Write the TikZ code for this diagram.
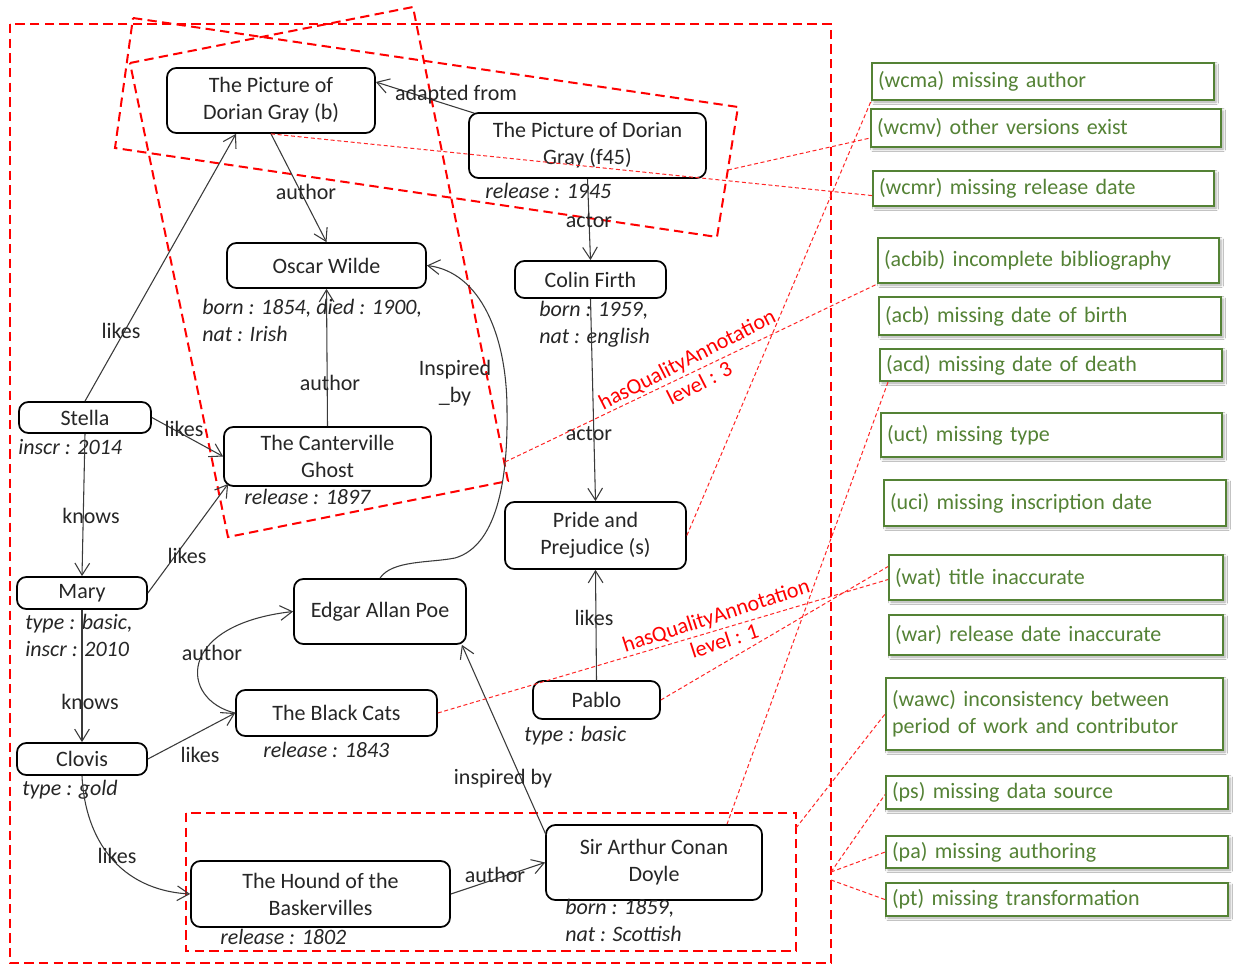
\documentclass[tikz,border=0pt]{standalone}
\usepackage{fontspec}
\setmainfont{Carlito}
\usetikzlibrary{arrows.meta,calc,shadows.blur}
\definecolor{qgreen}{HTML}{548235}
\definecolor{edgegray}{HTML}{3A3A3A}
\newcommand{\dgfont}{\fontsize{16.5}{20.25}\selectfont}
\tikzset{
  ent/.style 2 args={draw=black, line width=1.3pt, rounded corners=7pt, align=center,
    inner sep=0pt, minimum width=#1*0.75pt, minimum height=#2*0.75pt, font=\dgfont, text=black!85},
  attr/.style={font=\dgfont\itshape, align=left, anchor=west, inner sep=0pt, text=black!85},
  elab/.style={font=\dgfont, align=center, inner sep=0pt, text=black!85},
  link/.style={draw=edgegray, line width=0.8pt, -{Straight Barb[length=9pt,width=11pt]}},
  qa/.style 2 args={draw=qgreen, line width=1.6pt, fill=white, anchor=north west,
    inner xsep=4.5pt, inner ysep=0pt, text width=#1, minimum height=#2*0.75pt,
    align=left, text=qgreen, font=\dgfont,
    blur shadow={shadow xshift=1.5pt, shadow yshift=-1.5pt, shadow blur steps=4, shadow opacity=35}},
  bigdash/.style={draw=red, line width=1.5pt, dash pattern=on 7pt off 4pt},
  thindash/.style={draw=red!85!white, line width=0.75pt, dash pattern=on 3pt off 2pt},
  qlab/.style={text=red, font=\dgfont, align=center, inner sep=0pt}
}
\begin{document}
\begin{tikzpicture}[x=0.75pt,y=-0.75pt]
\useasboundingbox (0,0) rectangle (1233,966);
\fill[white] (0,0) rectangle (1233,966);

% group frames
\draw[bigdash] (10,24) rectangle (831,963);
\draw[bigdash] (186,813) rectangle (796,951);
\coordinate (bA1) at (130,63);
\coordinate (bA2) at (413,7);
\coordinate (bA3) at (508,481);
\coordinate (bA4) at (228,537);
\draw[bigdash] (bA1) -- (bA2) -- (bA3) -- (bA4) -- cycle;
\coordinate (bB1) at (133,18);
\coordinate (bB2) at (738,107);
\coordinate (bB3) at (717,237);
\coordinate (bB4) at (115,148);
\draw[bigdash] (bB1) -- (bB2) -- (bB3) -- (bB4) -- cycle;

% entities
\node[ent={208}{65}] (dgb) at (271,100.5) {The Picture of\\Dorian Gray (b)};
\node[ent={237}{65}] (f45) at (587.5,145.5) {The Picture of Dorian\\Gray (f45)};
\node[ent={199}{45}] (ow) at (326.5,265.5) {Oscar Wilde};
\node[ent={151}{37}] (cf) at (590.5,279.5) {Colin Firth};
\node[ent={207}{59}] (cg) at (327.5,456.5) {The Canterville\\Ghost};
\node[ent={132}{31}] (st) at (85,417.5) {Stella};
\node[ent={130}{32}] (ma) at (82,593) {Mary};
\node[ent={130}{32}] (cl) at (82,759) {Clovis};
\node[ent={172}{65}] (eap) at (380,611.5) {Edgar Allan Poe};
\node[ent={201}{46}] (bc) at (336.5,713) {The Black Cats};
\node[ent={181}{67}] (pp) at (595.5,535.5) {Pride and\\Prejudice (s)};
\node[ent={127}{38}] (pab) at (596.5,700) {Pablo};
\node[ent={259}{66}] (hb) at (320.5,894) {The Hound of the\\Baskervilles};
\node[ent={216}{75}] (doyle) at (654,862.5) {Sir Arthur Conan\\Doyle};

% attributes
\node[attr] (a1) at (485,191) {release : 1945};
\node[attr] (a2) at (202,320.5) {born : 1854, died : 1900,\\nat : Irish};
\node[attr] (a3) at (539,324.5) {born : 1959,\\nat : english};
\node[attr] (a4) at (244,497) {release : 1897};
\node[attr] (a5) at (18,447) {inscr : 2014};
\node[attr] (a6) at (25,635.5) {type : basic,\\inscr : 2010};
\node[attr] (a7) at (22,790) {type : gold};
\node[attr] (a8) at (263,750) {release : 1843};
\node[attr] (a9) at (524,736) {type : basic};
\node[attr] (a10) at (220,937) {release : 1802};
\node[attr] (a11) at (565,920) {born : 1859,\\nat : Scottish};

% connectors
\draw[link] ($(f45.north west)+(6,1)$) -- (dgb.10);
\draw[link] (dgb.south) -- (ow.north);
\draw[link] (f45.south) -- (cf.north);
\draw[link] (cf.south) -- (pp.north);
\draw[link] (cg.north) -- (ow.south);
\draw[link] (st.north) -- ($(dgb.south)+(-35,0)$);
\draw[link] (st.east) -- (cg.west);
\draw[link] (st.south) -- (ma.north);
\draw[link] (ma.east) -- ($(cg.south west)+(5,-3)$);
\draw[link] (ma.south) -- (cl.north);
\draw[link] (cl.east) -- (bc.west);
\draw[link] (cl.south) .. controls (85,840) and (120,890) .. (hb.west);
\draw[link] (bc.west) .. controls (180,700) and (175,625) .. (eap.west);
\draw[link] (eap.north) .. controls (392,560) and (430,563) .. (455,558)
   .. controls (500,545) and (508,470) .. (507,410)
   .. controls (507,335) and (480,272) .. (ow.east);
\draw[link] ($(doyle.north west)+(1,11)$) -- ($(eap.south east)+(-5,0)$);
\draw[link] (hb.east) -- (doyle.west);
\draw[link] (pab.north) -- (pp.south);

% connector labels
\node[elab] (l1) at (456,95) {adapted from};
\node[elab] (l2) at (306,192) {author};
\node[elab] (l3) at (589,221) {actor};
\node[elab] (l4) at (589,434) {actor};
\node[elab] (l5) at (330,383) {author};
\node[elab] (l6) at (121,331) {likes};
\node[elab] (l7) at (184,429) {likes};
\node[elab] (l8) at (91,516) {knows};
\node[elab] (l9) at (187,556) {likes};
\node[elab] (l10) at (90,702) {knows};
\node[elab] (l11) at (200,755) {likes};
\node[elab] (l12) at (117,856) {likes};
\node[elab] (l13) at (212,653) {author};
\node[elab] (l14) at (455,383) {Inspired\\\_by};
\node[elab] (l15) at (503,779) {inspired by};
\node[elab] (l16) at (495,875) {author};
\node[elab] (l17) at (594,618) {likes};

% quality annotations
\node[qa={247.5pt}{37}] (qwcma) at (871,62) {(wcma) missing author};
\node[qa={253.5pt}{38}] (qwcmv) at (870,108) {(wcmv) other versions exist};
\node[qa={246.75pt}{35}] (qwcmr) at (872,170) {(wcmr) missing release date};
\node[qa={246.75pt}{45}] (qacbib) at (877,237) {(acbib) incomplete bibliography};
\node[qa={247.5pt}{38}] (qacb) at (878,296) {(acb) missing date of birth};
\node[qa={247.5pt}{32}] (qacd) at (879,348) {(acd) missing date of death};
\node[qa={246.75pt}{44}] (quct) at (880,412) {(uct) missing type};
\node[qa={247.5pt}{46}] (quci) at (883,479) {(uci) missing inscription date};
\node[qa={241.5pt}{45}] (qwat) at (888,554) {(wat) title inaccurate};
\node[qa={241.5pt}{40}] (qwar) at (888,614) {(war) release date inaccurate};
\node[qa={243.75pt}{72}] (qwawc) at (885,677) {(wawc) inconsistency between\\period of work and contributor};
\node[qa={247.5pt}{33}] (qps) at (885,775) {(ps) missing data source};
\node[qa={247.5pt}{32}] (qpa) at (885,835) {(pa) missing authoring};
\node[qa={247.5pt}{33}] (qpt) at (885,882) {(pt) missing transformation};

% annotation links
\coordinate (rBr) at (728,170);
\coordinate (rAr) at (505,462);
\coordinate (pRr) at (796,828);
\coordinate (gR1) at (831,872);
\coordinate (gR2) at (831,880);
\draw[thindash] (dgb.south) -- ($(qwcmr.west)+(0,7)$);
\draw[thindash] (rBr) -- ($(qwcmv.west)+(0,10)$);
\draw[thindash] (pp.east) -- (qwcma.south west);
\draw[thindash] (rAr) -- (qacbib.south west);
\draw[thindash] ($(qacd.south west)+(9,0)$) -- ($(doyle.north)+(73,0)$);
\draw[thindash] (bc.east) -- ($(qwat.west)+(0,2)$);
\draw[thindash] (pab.east) -- ($(qwat.west)+(0,-11)$);
\draw[thindash] (pRr) -- (qwawc.west);
\draw[thindash] (gR1) -- ($(qps.west)+(0,2)$);
\draw[thindash] (gR1) -- (qpa.west);
\draw[thindash] (gR2) -- (qpt.west);

\node[qlab, rotate=27] (hq3) at (693,371) {hasQualityAnnotation\\level : 3};
\node[qlab, rotate=18] (hq1) at (720,628) {hasQualityAnnotation\\level : 1};
\end{tikzpicture}
\end{document}
